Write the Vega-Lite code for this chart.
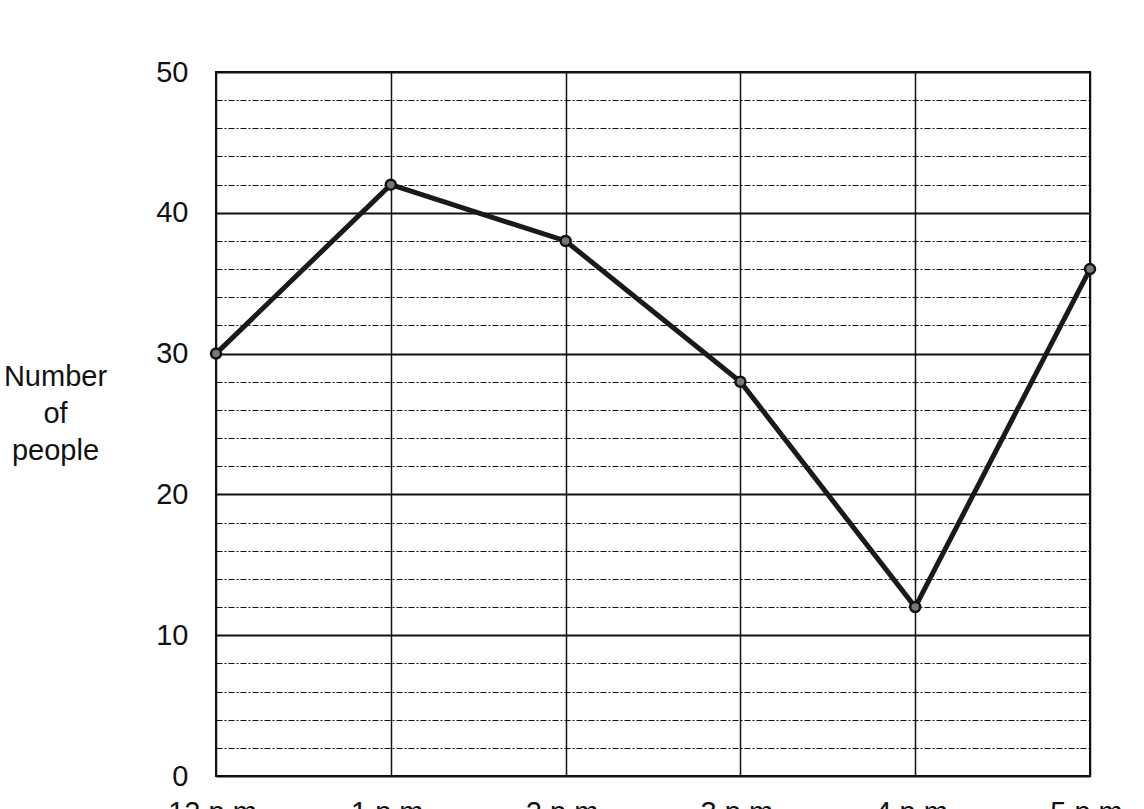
{
  "$schema": "https://vega.github.io/schema/vega-lite/v6.json",
  "description": "Number of people by hour, 12 p.m. to 5 p.m.",
  "autosize": {"type": "none"},
  "padding": {"left": 216, "top": 72, "right": 54, "bottom": 33},
  "width": 874,
  "height": 704,
  "background": "white",
  "config": {
    "font": "Liberation Sans",
    "view": {"stroke": "#111", "strokeWidth": 2}
  },
  "data": {
    "values": [
      {"time": "12 p.m.", "people": 30},
      {"time": "1 p.m.", "people": 42},
      {"time": "2 p.m.", "people": 38},
      {"time": "3 p.m.", "people": 28},
      {"time": "4 p.m.", "people": 12},
      {"time": "5 p.m.", "people": 36}
    ]
  },
  "mark": {
    "type": "line",
    "color": "#1a1a1a",
    "strokeWidth": 5,
    "point": {"filled": true, "fill": "#777", "stroke": "#111", "strokeWidth": 2.5, "size": 100}
  },
  "encoding": {
    "x": {
      "field": "time",
      "type": "ordinal",
      "sort": null,
      "scale": {"type": "point", "padding": 0},
      "axis": {
        "title": null,
        "labelAngle": 0,
        "labelFontSize": 29,
        "labelColor": "#111",
        "labelPadding": 22,
        "labelBaseline": "top",
        "ticks": false,
        "domain": false,
        "grid": true,
        "gridColor": "#111",
        "gridWidth": 1.5,
        "gridOpacity": 1
      }
    },
    "y": {
      "field": "people",
      "type": "quantitative",
      "scale": {"domain": [0, 50], "nice": false},
      "axis": {
        "values": [0, 2, 4, 6, 8, 10, 12, 14, 16, 18, 20, 22, 24, 26, 28, 30, 32, 34, 36, 38, 40, 42, 44, 46, 48, 50],
        "labelExpr": "datum.value % 10 === 0 ? datum.label : ''",
        "labelFontSize": 29,
        "labelColor": "#111",
        "labelPadding": 28,
        "ticks": false,
        "domain": false,
        "grid": true,
        "gridColor": "#111",
        "gridOpacity": 1,
        "gridWidth": {"condition": {"test": "datum.value % 10 === 0", "value": 2}, "value": 1},
        "gridDash": {"condition": {"test": "datum.value % 10 === 0", "value": []}, "value": [6, 2, 2, 2]},
        "title": ["Number", "of", "people"],
        "titleAngle": 0,
        "titleAlign": "center",
        "titleBaseline": "alphabetic",
        "titleFontSize": 29,
        "titleFontWeight": "normal",
        "titleColor": "#111",
        "titleLineHeight": 37,
        "titleX": -161,
        "titleY": 313
      }
    }
  }
}
